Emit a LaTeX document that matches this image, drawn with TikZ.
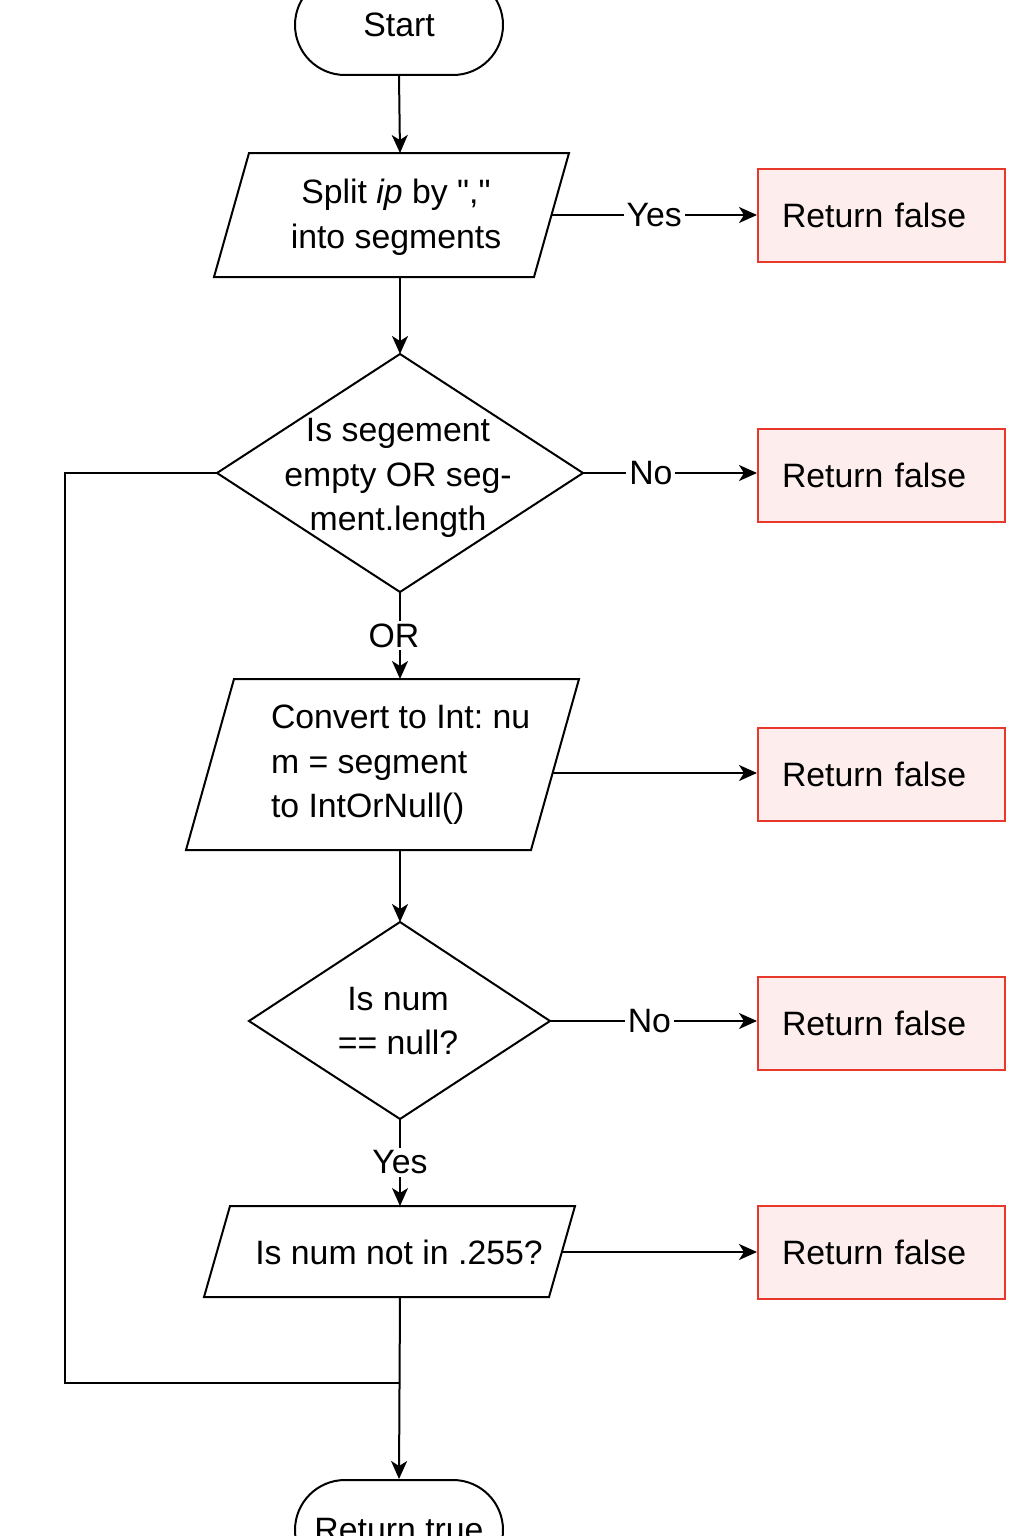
\documentclass[tikz,border=0pt]{standalone}
\usepackage{fontspec}
\setmainfont{Liberation Sans}[Ligatures=TeXOff]
\usetikzlibrary{arrows.meta}
\definecolor{boxred}{HTML}{E8382C}
\definecolor{boxfill}{HTML}{FDEDED}
\frenchspacing
\begin{document}
\begin{tikzpicture}[x=0.5pt,y=-0.5pt,line width=1pt,
  fnt/.style={font=\fontsize{16.9}{22.3}\selectfont},
  txt/.style={fnt,align=center,inner sep=0pt},
  shp/.style={draw,line width=1pt,line join=miter},
  term/.style={draw,fnt,rounded corners=25pt,minimum width=104pt,minimum height=50pt,inner sep=0pt},
  retf/.style={draw=boxred,fill=boxfill,fnt,text width=99.5pt,align=left,inner xsep=12pt,inner ysep=0pt,minimum height=46.5pt},
  arr/.style={-{Stealth[length=9pt,width=8pt,inset=2.5pt]}},
  lbl/.style={fnt,fill=white,inner sep=1.5pt}]
\useasboundingbox (0,0) rectangle (1024,1536);

% Start
\node[term] (start) at (399,25) {Start};

% Parallelogram 1
\draw[shp] (249,153) -- (569,153) -- (534,277) -- (214,277) -- cycle;
\node[txt] (p1) at (396,217) {Split \textit{ip} by ","\\into segments};
\coordinate (p1t) at (400,153);
\coordinate (p1b) at (400,277);
\coordinate (p1r) at (551.5,215);

% Diamond 1
\draw[shp] (400,354) -- (583,473) -- (400,592) -- (217,473) -- cycle;
\node[txt] (d1) at (398,478) {Is segement\\empty OR seg-\\ment.length};
\coordinate (d1t) at (400,354);
\coordinate (d1r) at (583,473);
\coordinate (d1b) at (400,592);
\coordinate (d1l) at (217,473);

% Parallelogram 2
\draw[shp] (234,679) -- (579,679) -- (531,850) -- (186,850) -- cycle;
\node[txt,align=left,anchor=west] (p2) at (270,765) {Convert to Int: nu\\m = segment\\to IntOrNull()};
\coordinate (p2t) at (400,679);
\coordinate (p2b) at (400,850);
\coordinate (p2r) at (552.6,773);

% Diamond 2
\draw[shp] (400,922) -- (550,1021) -- (400,1119) -- (249,1021) -- cycle;
\node[txt] (d2) at (398,1021) {Is num\\== null?};
\coordinate (d2t) at (400,922);
\coordinate (d2r) at (550,1021);
\coordinate (d2b) at (400,1119);

% Parallelogram 3
\draw[shp] (230,1206) -- (575,1206) -- (549,1297) -- (204,1297) -- cycle;
\node[txt] (p3) at (399,1252) {Is num not in .255?};
\coordinate (p3t) at (400,1206);
\coordinate (p3b) at (400,1297);
\coordinate (p3r) at (561.9,1252);

% Return true
\node[term] (rt) at (399,1530) {Return true};

% Return false boxes
\node[retf] (rf1) at (881.5,215.5) {Return false};
\node[retf] (rf2) at (881.5,475) {Return false};
\node[retf] (rf3) at (881.5,774.5) {Return false};
\node[retf] (rf4) at (881.5,1023) {Return false};
\node[retf] (rf5) at (881.5,1252) {Return false};

% Main flow
\draw[arr] (start.south) -- (p1t);
\draw[arr] (p1b) -- (d1t);
\draw[arr] (d1b) -- node[lbl,xshift=-3pt] {OR} (p2t);
\draw[arr] (p2b) -- (d2t);
\draw[arr] (d2b) -- node[lbl] {Yes} (p3t);
\draw[arr] (p3b) -- (rt.north);

% Side branches
\draw[arr] (p1r) -- node[lbl] {Yes} (rf1.west |- p1r);
\draw[arr] (d1r) -- node[lbl,pos=0.39] {No} (rf2.west |- d1r);
\draw[arr] (p2r) -- (rf3.west |- p2r);
\draw[arr] (d2r) -- node[lbl,pos=0.48] {No} (rf4.west |- d2r);
\draw[arr] (p3r) -- (rf5.west |- p3r);

% Loop back
\coordinate (lc1) at (65,473);
\coordinate (lc2) at (65,1383);
\coordinate (join) at (400,1383);
\draw (d1l) -- (lc1) -- (lc2) -- (join);
\end{tikzpicture}
\end{document}
